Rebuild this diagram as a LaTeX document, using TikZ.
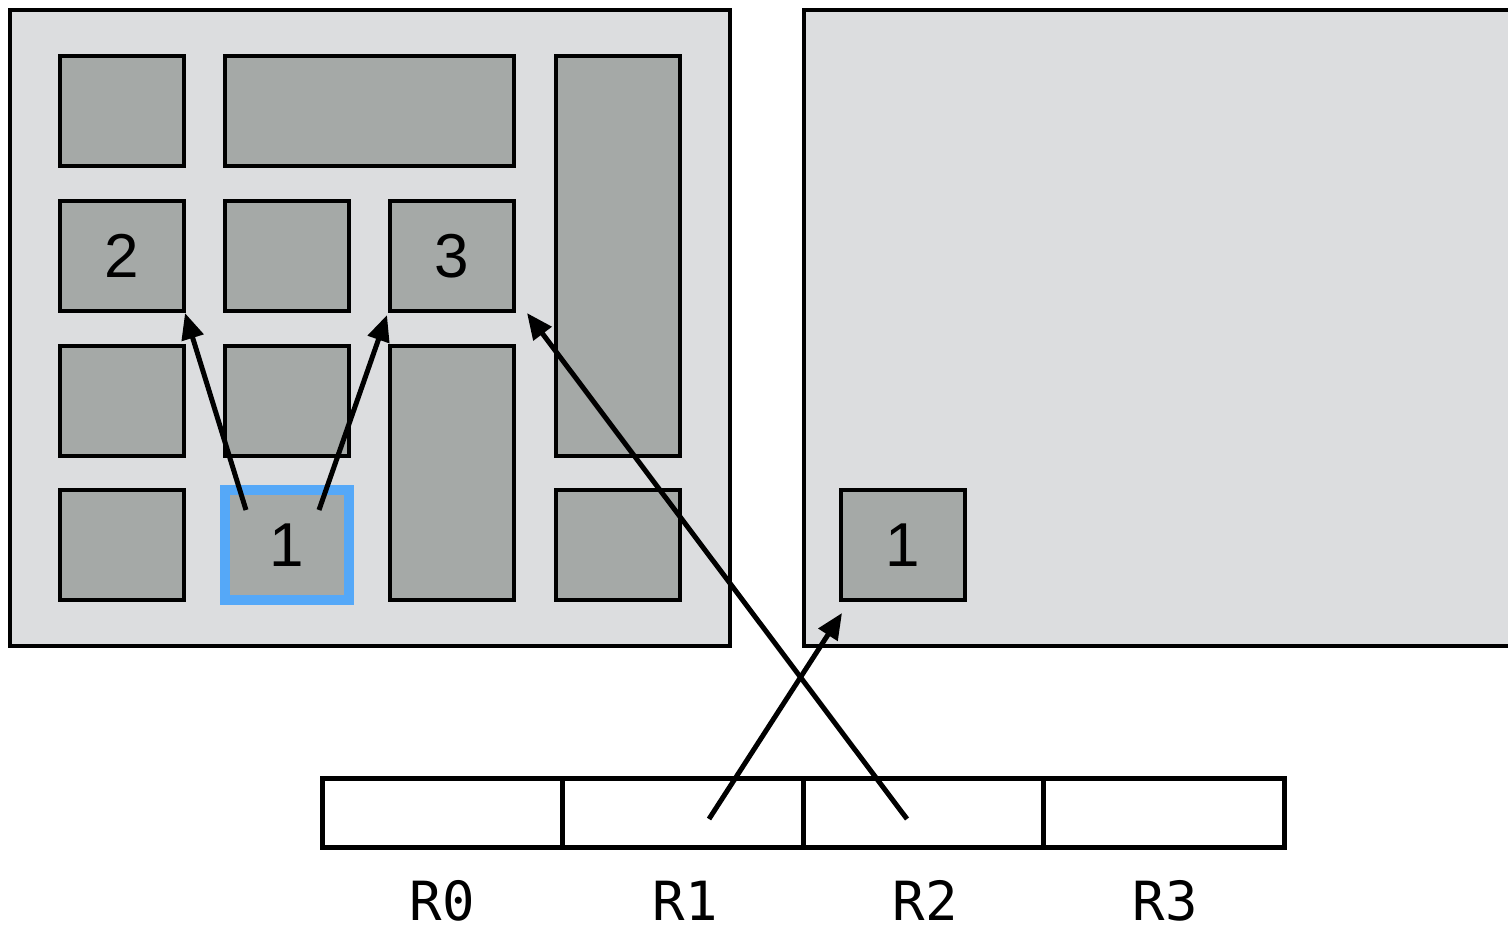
\documentclass[tikz,border=0pt]{standalone}
\usepackage{fontspec}
\setmainfont{Liberation Sans}
\newfontfamily\regmono{DejaVu Sans Mono}
\usetikzlibrary{calc,arrows.meta}
\definecolor{panelgray}{HTML}{DCDDDF}
\definecolor{boxgray}{HTML}{A5A9A7}
\definecolor{selblue}{HTML}{55A8F8}
\tikzset{
  panel/.style={draw, fill=panelgray, line width=4pt, inner sep=0, outer sep=0},
  box/.style={draw, fill=boxgray, line width=4pt, inner sep=0, outer sep=0,
    minimum width=124pt, minimum height=110pt, font=\fontsize{62}{70}\selectfont},
  selbox/.style={box, draw=selblue, line width=10pt},
  regcell/.style={draw, fill=white, line width=5pt, inner sep=0, outer sep=0,
    minimum width=241pt, minimum height=69pt},
  reglabel/.style={anchor=base, inner sep=0, text depth=0pt, font=\regmono\fontsize{54}{60}\selectfont},
  conn/.style={line width=5pt, -{Triangle[length=26pt,width=22pt]}}
}
\begin{document}
\begin{tikzpicture}[x=1pt,y=-1pt]
\clip (0,0) rectangle (1508,928);
\useasboundingbox (0,0) rectangle (1508,928);
% panels
\node[panel, minimum width=720pt, minimum height=636pt] (lp) at (370,328) {};
\fill[panelgray] (804,10) rectangle (1530,646);
\draw[line width=4pt] (1530,10) -- (804,10) -- (804,646) -- (1530,646);
% left panel boxes
\node[box] (a1) at (122,111) {};
\node[box, minimum width=289pt] (a2) at (369.5,111) {};
\node[box, minimum height=400pt] (a3) at (618,256) {};
\node[box] (b1) at (122,256) {2};
\node[box] (b2) at (287,256) {};
\node[box] (b3) at (452,256) {3};
\node[box] (c1) at (122,401) {};
\node[box] (c2) at (287,401) {};
\node[box, minimum height=254pt] (c3) at (452,473) {};
\node[box] (d1) at (122,545) {};
\node[selbox] (d2) at (287,545) {1};
\node[box] (d4) at (618,545) {};
% right panel box
\node[box] (e1) at (903,545) {1};
% register
\node[regcell] (r0) at (442.5,812.5) {};
\node[regcell] (r1) at (683,812.5) {};
\node[regcell] (r2) at (923.5,812.5) {};
\node[regcell] (r3) at (1164,812.5) {};
\node[reglabel] (l0) at (442.5,920) {R0};
\node[reglabel] (l1) at (685,920) {R1};
\node[reglabel] (l2) at (925,920) {R2};
\node[reglabel] (l3) at (1165,920) {R3};
% arrow tails
\coordinate (t1) at ($(d2.center)+(-41,-35)$);
\coordinate (t2) at ($(d2.center)+(32,-35)$);
\coordinate (t3) at ($(r2.center)+(-16.5,6.5)$);
\coordinate (t4) at ($(r1.center)+(26,6.5)$);
% arrows
\draw[conn] (t1) -- ($(b1.south east)+(1,2)$);
\draw[conn] (t2) -- ($(b3.south west)+(-3,4)$);
\draw[conn] (t3) -- ($(b3.south east)+(13,2)$);
\draw[conn] (t4) -- ($(e1.south west)+(1,13)$);
\end{tikzpicture}
\end{document}
